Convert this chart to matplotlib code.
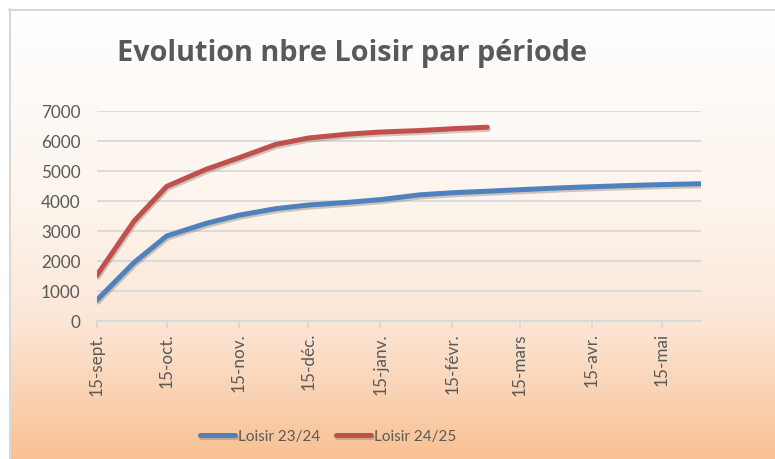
import numpy as np
import matplotlib.pyplot as plt
import matplotlib.dates as mdates
import matplotlib.patheffects as pe
from matplotlib.colors import LinearSegmentedColormap
from datetime import date

plt.rcParams['font.family'] = ['Lato', 'DejaVu Sans']

# Data (semi-monthly points, season 23/24 and 24/25 on the same axis)
dates = [date(2023, 9, 15), date(2023, 10, 1), date(2023, 10, 15), date(2023, 11, 1),
         date(2023, 11, 15), date(2023, 12, 1), date(2023, 12, 15), date(2024, 1, 1),
         date(2024, 1, 15), date(2024, 2, 1), date(2024, 2, 15), date(2024, 3, 1),
         date(2024, 3, 15), date(2024, 4, 1), date(2024, 4, 15), date(2024, 5, 1),
         date(2024, 5, 15), date(2024, 6, 1)]
loisir_2324 = [700, 1950, 2830, 3250, 3520, 3740, 3860, 3950, 4040, 4200,
               4270, 4320, 4370, 4430, 4470, 4510, 4540, 4570]
loisir_2425 = [1530, 3330, 4480, 5050, 5430, 5880, 6090, 6220, 6290, 6340, 6400, 6450]

tick_dates = [date(2023, 9, 15), date(2023, 10, 15), date(2023, 11, 15), date(2023, 12, 15),
              date(2024, 1, 15), date(2024, 2, 15), date(2024, 3, 15), date(2024, 4, 15),
              date(2024, 5, 15)]
tick_labels = ['15-sept.', '15-oct.', '15-nov.', '15-déc.', '15-janv.',
               '15-févr.', '15-mars', '15-avr.', '15-mai']

W, H = 775, 460
fig = plt.figure(figsize=(W / 100, H / 100), dpi=100)

# background: gradient chart area with grey border
bg = fig.add_axes([0, 0, 1, 1])
bg.set_xlim(0, W)
bg.set_ylim(H, 0)
bg.axis('off')
cmap = LinearSegmentedColormap.from_list('peach', [
    (0.0, '#ffffff'), (0.45, '#fdf4ec'), (0.7, '#fce6d6'), (1.0, '#f8c193')])
grad = np.linspace(0, 1, 256).reshape(-1, 1)
bg.imshow(grad, cmap=cmap, aspect='auto', extent=(9, W, H, 10), zorder=0)
bg.plot([9, W], [10.5, 10.5], color='#d9d9d9', lw=1.5, zorder=1)
bg.plot([9.5, 9.5], [10, H], color='#d9d9d9', lw=1.5, zorder=1)

ax = fig.add_axes([97 / W, 1 - 322 / H, (701 - 97) / W, (322 - 111.7) / H])
ax.set_facecolor('none')

shadow = [pe.SimpleLineShadow(offset=(0.8, -1.5), shadow_color='#7a6a5a', alpha=0.35), pe.Normal()]
l1, = ax.plot(dates, loisir_2324, color='#4f81bd', lw=3.6, solid_capstyle='round',
              solid_joinstyle='round', path_effects=shadow, label='Loisir 23/24')
l2, = ax.plot(dates[:len(loisir_2425)], loisir_2425, color='#c0504d', lw=3.6,
              solid_capstyle='round', solid_joinstyle='round', path_effects=shadow,
              label='Loisir 24/25')

ax.set_xlim(mdates.date2num(dates[0]), mdates.date2num(dates[-1]))
ax.set_ylim(0, 7000)
ax.set_yticks(range(0, 7001, 1000))
ax.grid(axis='y', color='#d9d9d9', lw=1.3)
ax.set_axisbelow(True)
for s in ['top', 'right', 'left']:
    ax.spines[s].set_visible(False)
ax.spines['bottom'].set_color('#d9d9d9')
ax.spines['bottom'].set_linewidth(1.3)

ax.set_xticks([mdates.date2num(d) for d in tick_dates])
ax.set_xticklabels(tick_labels, rotation=90)
ax.tick_params(axis='x', length=5, width=1.3, color='#d9d9d9', labelsize=12.3,
               labelcolor='#595959', pad=3)
ax.tick_params(axis='y', length=0, labelsize=12.3, labelcolor='#595959', pad=12)

fig.text(352 / W, 1 - 53 / H, 'Evolution nbre Loisir par période', ha='center', va='center',
         fontsize=20.8, fontweight='bold', color='#595959', family='Open Sans')

fig.legend(handles=[l1, l2], loc='center', bbox_to_anchor=(328 / W, 1 - 437 / H),
           ncol=2, frameon=False, fontsize=11, labelcolor='#595959',
           handlelength=2.3, handletextpad=0.2, columnspacing=1.0)

fig.savefig('out.png', dpi=100)
